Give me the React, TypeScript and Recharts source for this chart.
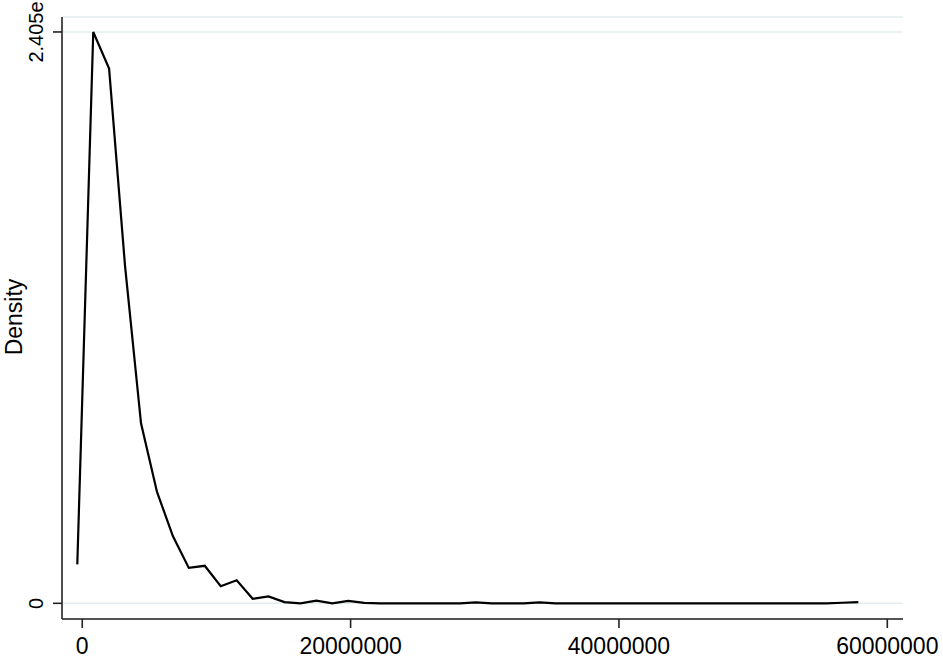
import { LineChart, Line, XAxis, YAxis, CartesianGrid } from 'recharts';

// bin midpoints (raw units)
const binMids = [
  -0.37e6, 0.82e6, 2.0e6, 3.19e6, 4.38e6, 5.57e6, 6.76e6, 7.94e6, 9.13e6, 10.32e6,
  11.51e6, 12.7e6, 13.88e6, 15.07e6, 16.26e6, 17.45e6, 18.64e6, 19.82e6, 21.01e6, 22.2e6,
  23.39e6, 24.58e6, 25.76e6, 26.95e6, 28.14e6, 29.33e6, 30.52e6, 31.7e6, 32.89e6, 34.08e6,
  35.27e6, 36.46e6, 37.64e6, 38.83e6, 40.02e6, 41.21e6, 42.4e6, 43.58e6, 44.77e6, 45.96e6,
  47.15e6, 48.34e6, 49.52e6, 50.71e6, 51.9e6, 53.09e6, 54.28e6, 55.46e6, 56.65e6, 57.84e6,
];

// density, in units of 1e-8
const density = [
  0.164, 2.405, 2.251, 1.419, 0.758, 0.469, 0.282, 0.149, 0.158, 0.072,
  0.097, 0.019, 0.029, 0.005, 0.0, 0.011, 0.0, 0.01, 0.002, 0.0,
  0.0, 0.0, 0.0, 0.0, 0.0, 0.004, 0.0, 0.0, 0.0, 0.004,
  0.0, 0.0, 0.0, 0.0, 0.0, 0.0, 0.0, 0.0, 0.0, 0.0,
  0.0, 0.0, 0.0, 0.0, 0.0, 0.0, 0.0, 0.0, 0.0025, 0.005,
];

const xTicks = [0, 20000000, 40000000, 60000000];
const yTicks = [0, 2.405];
const yTickLabels = ['0', '2.405e'];

const data = binMids.map((x, i) => ({ x, d: density[i] }));

const FONT = '"Liberation Sans", Arial, Helvetica, sans-serif';

function XTick(props: any) {
  const { x, y, payload } = props;
  return (
    <text x={x} y={y} dy={24} textAnchor="middle" fontFamily={FONT} fill="#000" style={{ fontSize: 23 }}>
      {String(payload.value)}
    </text>
  );
}

function YTick(props: any) {
  const { x, y, payload } = props;
  const idx = yTicks.indexOf(payload.value);
  const bx = x - 8;
  return (
    <text
      x={bx}
      y={y}
      textAnchor="middle"
      fontFamily={FONT}
      fill="#000"
      style={{ fontSize: 20 }}
      transform={`rotate(-90 ${bx} ${y})`}
    >
      {yTickLabels[idx] ?? String(payload.value)}
    </text>
  );
}

function YLabel(props: any) {
  const { viewBox } = props;
  const lx = viewBox.x + 21.5;
  const ly = viewBox.y + viewBox.height / 2 - 1;
  return (
    <text
      x={lx}
      y={ly}
      textAnchor="middle"
      fontFamily={FONT}
      fill="#000"
      style={{ fontSize: 23 }}
      transform={`rotate(-90 ${lx} ${ly})`}
    >
      Density
    </text>
  );
}

export default function App() {
  return (
    <div style={{ position: 'absolute', left: 0, top: 0, width: 943, height: 659, background: '#fff' }}>
      <LineChart width={943} height={659} data={data} margin={{ top: 17, right: 40, left: 0, bottom: 0 }}>
        <CartesianGrid vertical={false} stroke="#e3ecee" strokeWidth={1.5} />
        <XAxis
          dataKey="x"
          type="number"
          domain={[-1.51e6, 61.17e6]}
          ticks={xTicks}
          allowDataOverflow
          height={40}
          tickSize={9}
          tickMargin={2}
          tick={<XTick />}
          axisLine={{ stroke: '#222', strokeWidth: 1.6 }}
          tickLine={{ stroke: '#222', strokeWidth: 1.6 }}
        />
        <YAxis
          type="number"
          domain={[-0.066, 2.468]}
          ticks={yTicks}
          allowDataOverflow
          width={62}
          tickSize={9}
          tickMargin={2}
          tick={<YTick />}
          axisLine={{ stroke: '#222', strokeWidth: 1.6 }}
          tickLine={{ stroke: '#222', strokeWidth: 1.6 }}
          label={<YLabel />}
        />
        <Line
          type="linear"
          dataKey="d"
          stroke="#000"
          strokeWidth={2.2}
          dot={false}
          activeDot={false}
          isAnimationActive={false}
        />
      </LineChart>
    </div>
  );
}
